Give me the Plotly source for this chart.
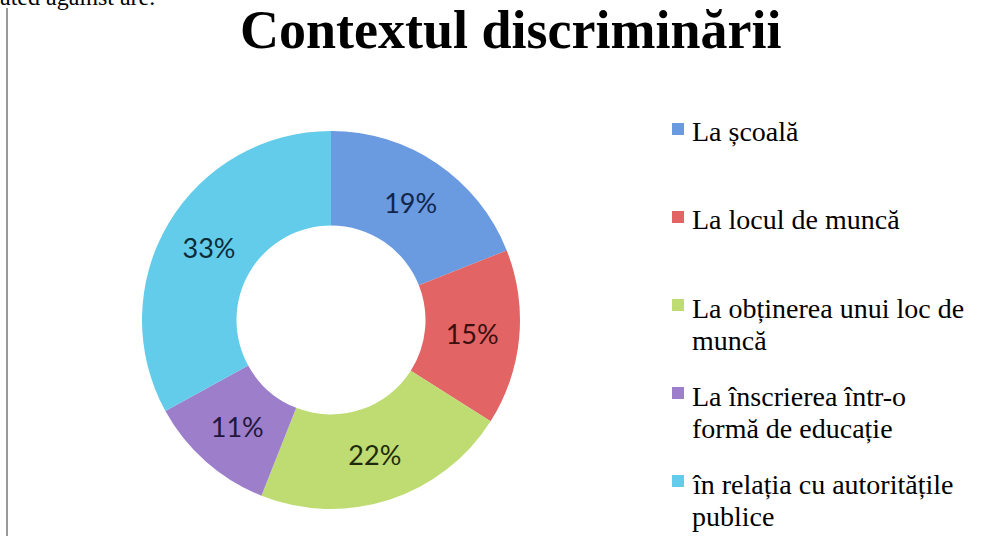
import plotly.graph_objects as go

categories = [
    "La școală",
    "La locul de muncă",
    "La obținerea unui loc de<br>muncă",
    "La înscrierea într-o<br>formă de educație",
    "în relația cu autoritățile<br>publice",
]
values = [19, 15, 22, 11, 33]
colors = ["#6A9AE0", "#E26464", "#BEDC72", "#9C7ECB", "#62CCEA"]
text_colors = ["#12254A", "#3A0F0F", "#1F2A0A", "#24163A", "#0D2B36"]
title_text = "Contextul discriminării"
cut_text = "ated against are."

W, H = 1003, 536
cx, cy, r = 331, 320, 189

fig = go.Figure()
fig.add_trace(go.Pie(
    labels=[c.replace("<br>", " ") for c in categories],
    values=values,
    hole=0.5,
    sort=False,
    direction="clockwise",
    rotation=0,
    marker=dict(colors=colors, line=dict(width=0)),
    textinfo="percent",
    textposition="inside",
    insidetextorientation="horizontal",
    textfont=dict(family="Lato", size=27, color=text_colors),
    domain=dict(x=[(cx - r) / W, (cx + r) / W], y=[(H - cy - r) / H, (H - cy + r) / H]),
    showlegend=False,
))

# legend drawn as text lines + colour squares (layout positions in pixels)
annotations = []
shapes = []
first_line_y = [132, 220, 308, 396, 484]
line_gap = 32
text_x = 690
for label, col, y0 in zip(categories, colors, first_line_y):
    for i, line in enumerate(label.split("<br>")):
        yy = y0 + i * line_gap
        annotations.append(dict(
            text=line, x=text_x / W, y=1 - yy / H, xref="paper", yref="paper",
            xanchor="left", yanchor="middle", showarrow=False,
            font=dict(family="Liberation Serif", size=28, color="#000000")))
    shapes.append(dict(type="rect", xref="paper", yref="paper",
                       x0=672 / W, x1=684 / W, y0=1 - (y0 - 9) / H, y1=1 - (y0 + 3) / H,
                       fillcolor=col, line=dict(width=0)))

annotations.append(dict(text="<b>" + title_text + "</b>", x=511 / W, y=1 - 30 / H,
                        xref="paper", yref="paper", xanchor="center", yanchor="middle",
                        showarrow=False,
                        font=dict(family="Liberation Serif", size=54, color="#000000")))
annotations.append(dict(text=cut_text, x=-2 / W, y=1 + 3 / H, xref="paper", yref="paper",
                        xanchor="left", yanchor="middle", showarrow=False,
                        font=dict(family="Liberation Serif", size=24, color="#000000")))
shapes.append(dict(type="line", xref="paper", yref="paper", x0=7 / W, x1=7 / W,
                   y0=0, y1=1 - 8 / H, line=dict(color="#9A9A9A", width=2)))

fig.update_layout(
    width=W, height=H,
    margin=dict(l=0, r=0, t=0, b=0),
    paper_bgcolor="white",
    plot_bgcolor="white",
    showlegend=False,
    annotations=annotations,
    shapes=shapes,
)

fig.write_html("out.html", config={"displayModeBar": False},
               post_script="document.body.style.margin='0px';document.body.style.overflow='hidden';")
